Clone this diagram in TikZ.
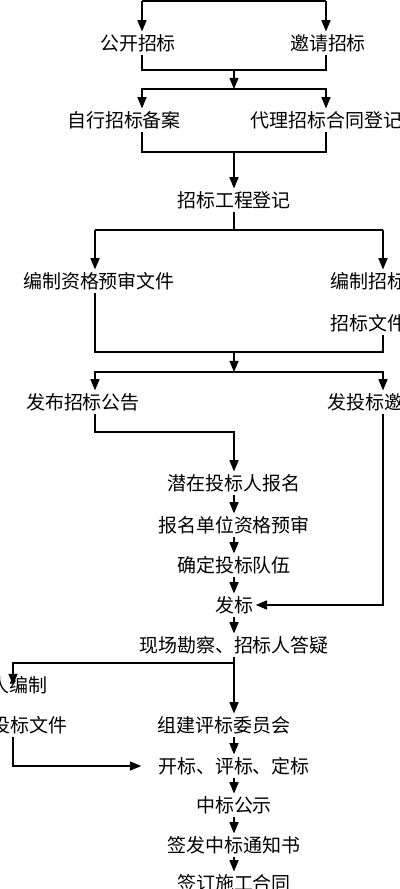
\documentclass[tikz,border=0pt]{standalone}
\usepackage{fontspec}
\newfontfamily\cjk{Noto Sans CJK SC}
\usetikzlibrary{arrows.meta}
\tikzset{
  every picture/.style={>={Triangle[length=8pt,width=6.5pt]}, line width=0.8pt},
  lbl/.style={inner sep=0pt, outer sep=2pt, font=\cjk\fontsize{13.5}{16}\selectfont},
}
% column positions (px)
\def\xl{142}
\def\xr{326}
\def\xm{234}
\def\xL{95}
\def\xR{383}

\begin{document}
\begin{tikzpicture}[x=0.025cm, y=-0.025cm]
  \useasboundingbox (0,0) rectangle (400,889);
  \clip (0,0) rectangle (400,889);
  % steps
  \node[lbl] (gk) at (138,43) {公开招标};
  \node[lbl] (yq) at (328,43) {邀请招标};
  \node[lbl] (zx) at (124,120) {自行招标备案};
  \node[lbl,anchor=west] (dl) at (248,120) {代理招标合同登记};
  \node[lbl] (gc) at (\xm,200) {招标工程登记};
  \node[lbl] (bzl) at (99,281) {编制资格预审文件};
  \node[lbl,anchor=west] (bzr) at (328,281) {编制招标};
  \node[lbl,anchor=west] (bzr2) at (328,323) {招标文件};
  \node[lbl] (fb) at (83,402) {发布招标公告};
  \node[lbl,anchor=west] (fy) at (325,402) {发投标邀};
  \node[lbl] (qz) at (\xm,483) {潜在投标人报名};
  \node[lbl] (bm) at (\xm,525) {报名单位资格预审};
  \node[lbl] (qd) at (\xm,565) {确定投标队伍};
  \node[lbl] (fab) at (\xm,605) {发标};
  \node[lbl] (xc) at (\xm,645) {现场勘察、招标人答疑};
  \node[lbl,anchor=east] (tb1) at (50,685) {人编制};
  \node[lbl,anchor=east] (tb2) at (70,725) {投标文件};
  \node[lbl] (zj) at (224,725) {组建评标委员会};
  \node[lbl] (kb) at (\xm,766) {开标、评标、定标};
  \node[lbl] (zg) at (\xm,805) {中标公示};
  \node[lbl] (qf) at (\xm,845) {签发中标通知书};
  \node[lbl] (qq) at (\xm,883) {签订施工合同};
  % junctions
  \coordinate (t1) at (\xl,1);
  \coordinate (t2) at (\xr,1);
  \coordinate (j1) at (\xm,70);
  \coordinate (j2) at (\xm,89);
  \coordinate (j3) at (\xm,152);
  \coordinate (j4) at (\xm,230);
  \coordinate (c1) at (\xL,230);
  \coordinate (c2) at (\xR,230);
  \coordinate (j5) at (\xm,352);
  \coordinate (j6) at (\xm,372);
  \coordinate (j7) at (\xm,432);
  \coordinate (j8) at (\xm,663);
  \coordinate (c3) at (13,663);
  % top part
  \draw (t1) -- (t2);
  \draw[->] (t1) -- (t1 |- gk.north);
  \draw[->] (t2) -- (t2 |- yq.north);
  \draw (t1 |- gk.south) |- (j1) -| (t2 |- yq.south);
  \draw[->] (j1) -- (j2);
  \draw[->] (j2) -| (t1 |- zx.north);
  \draw[->] (j2) -| (t2 |- dl.north);
  \draw (t1 |- zx.south) |- (j3) -| (t2 |- dl.south);
  \draw[->] (j3) -- (gc);
  % documents
  \draw (gc) -- (j4);
  \draw (c1) -- (c2);
  \draw[->] (c1) -- (c1 |- bzl.north);
  \draw[->] (c2) -- (c2 |- bzr.north);
  \draw (c1 |- bzl.south) |- (j5) -| (c2 |- bzr2.south);
  \draw[->] (j5) -- (j6);
  \draw[->] (j6) -| (c1 |- fb.north);
  \draw[->] (j6) -| (c2 |- fy.north);
  \draw[->] (c1 |- fb.south) |- (j7) -- (qz);
  \draw[->] (c2 |- fy.south) |- (fab);
  % main chain
  \draw[->] (qz) -- (bm);
  \draw[->] (bm) -- (qd);
  \draw[->] (qd) -- (fab);
  \draw[->] (fab) -- (xc);
  \draw (xc) -- (j8);
  \draw[->] (j8) -- (j8 |- zj.north);
  \draw[->] (j8) -- (c3) -- (c3 |- tb1);
  \draw[->,shorten >=10pt] (c3 |- tb2.south) |- (kb);
  \draw[->] (j8 |- zj.south) -- (kb);
  \draw[->] (kb) -- (zg);
  \draw[->] (zg) -- (qf);
  \draw[->] (qf) -- (qq);
\end{tikzpicture}
\end{document}
